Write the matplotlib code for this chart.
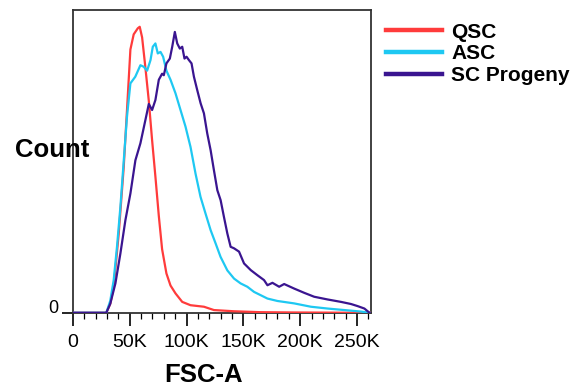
import matplotlib
matplotlib.use("Agg")
import matplotlib.pyplot as plt
import numpy as np

plt.rcParams['font.family'] = ['Liberation Sans', 'DejaVu Sans']

# FSC-A (thousands) and relative count values
qsc_x = [0, 29.4, 32.9, 35.9, 40.3, 44.7, 47.6, 50.6, 53.5, 57.1, 58.8, 60.9, 63.8, 66.8,
         69.7, 72.6, 75.6, 78.5, 82.3, 85.9, 90.3, 96.2, 103.5, 115.3, 124.1, 141.8, 165, 194.7, 253.5, 262]
qsc_y = [0, 0, 3, 8.6, 26, 48, 67, 87, 92, 94, 94.5, 91, 81, 70,
         57, 45, 32, 21, 13, 9, 6.4, 3.6, 2.5, 2, 0.9, 0.5, 0.2, 0.1, 0, 0]

asc_x = [0, 29.4, 32.9, 35.9, 38.8, 41.8, 44.7, 47.6, 50.6, 54.9, 59.4, 62.3, 65.3, 68.3, 70.3,
         72.6, 74.7, 77.1, 79.4, 82.3, 85.9, 90.3, 94.7, 99.1, 103.5, 107.9, 112.3, 116.7, 121.2,
         125.6, 129.9, 135.9, 141.8, 147.6, 153.5, 159.4, 165.3, 171.2, 180, 194.7, 209.4, 224.1,
         238.8, 253.5, 260.9]
asc_y = [0, 0, 4, 10.8, 21.8, 35, 50, 64.8, 75.8, 78, 81.8, 81.3, 80, 83.5, 87.9,
         89, 85.7, 86.2, 84.6, 80, 77, 72.5, 67, 61.5, 54.8, 46, 38.3, 32.8, 27.3,
         22.9, 18.5, 14, 11.3, 9.7, 8.6, 6.9, 5.8, 4.7, 3.9, 3.1, 2, 1.4,
         0.9, 0.4, 0]

prog_x = [0, 29.4, 32.9, 37.4, 41.8, 46.2, 50.6, 55.0, 59.4, 63.8, 66.8, 69.7, 72.6, 75.6, 78.5,
          80.0, 82.3, 85.3, 87.4, 89.7, 91.8, 94.1, 96.2, 98.2, 100.0, 102.1, 104.4, 106.5,
          109.4, 112.4, 115.3, 118.2, 121.2, 124.1, 127.1, 130.0, 132.9, 135.9, 138.8, 141.8,
          146.2, 150.6, 156.5, 162.4, 168.2, 171.2, 175.6, 181.5, 185.9, 194.7, 203.5, 212.3,
          224.1, 235.9, 244.7, 250.6, 256.5, 261]
prog_y = [0, 0, 3, 9.7, 19.6, 30.6, 39.4, 50.4, 56, 63.7, 69, 67, 70.3, 77, 79,
          78.5, 82.4, 84, 87.9, 92.8, 89, 87.3, 87.9, 84, 84.6, 83.5, 82.4, 78,
          73.6, 69.2, 65.9, 59.3, 53.7, 47.1, 40.5, 37.2, 31.7, 26.2, 21.8, 21.3,
          20.2, 16.3, 14.1, 12.4, 10.8, 9.1, 9.9, 8.6, 9.5, 8, 6.6, 5.3,
          4.4, 3.6, 2.9, 2.2, 1.4, 0]

series_names = ["QSC", "ASC", "SC Progeny"]
series_colors = ["#FF3B3B", "#1EC8F2", "#3A1590"]
tick_vals = [0, 50, 100, 150, 200, 250]
tick_labels = ["0", "50K", "100K", "150K", "200K", "250K"]

fig = plt.figure(figsize=(5.74, 3.9), dpi=100)
ax = fig.add_axes([0.127, 0.198, 0.519, 0.776])

data = [(qsc_x, qsc_y), (asc_x, asc_y), (prog_x, prog_y)]
for (xs, ys), name, col in zip(data, series_names, series_colors):
    ax.plot(np.array(xs), np.array(ys), color=col, lw=1.6, label=name, zorder=3)

ax.set_xlim(0, 262.144)
ax.set_ylim(0, 100)
ax.set_xticks(tick_vals)
ax.set_xticklabels(tick_labels, fontsize=14)
ax.set_xticks(np.arange(0, 262, 10), minor=True)
ax.tick_params(axis='x', which='major', length=9, width=1.2, direction='out', pad=6)
ax.tick_params(axis='x', which='minor', length=4, width=0.9, direction='out')
ax.set_yticks([0])
ax.set_yticklabels([""])
ax.tick_params(axis='y', which='major', length=8, width=1.2, direction='out')
for s in ax.spines.values():
    s.set_linewidth(1.3)
    s.set_color('#333333')

fig.text(53 / 574, 1 - 313 / 390, "0", fontsize=13, ha='center', va='baseline')
fig.text(15 / 574, 1 - 150 / 390, "Count", fontsize=18.5, fontweight='bold', ha='left', va='center')
fig.text(204 / 574, 1 - 375 / 390, "FSC-A", fontsize=18.5, fontweight='bold', ha='center', va='center')

leg_handles = [plt.Line2D([], [], color=c, lw=3.2) for c in series_colors]
leg = fig.legend(leg_handles, series_names, loc='upper left',
                 bbox_to_anchor=(371 / 574, 1 - 8 / 390), frameon=False,
                 prop={'weight': 'bold', 'size': 15}, handlelength=2.7,
                 handletextpad=0.45, labelspacing=0.13, borderpad=0.2)

fig.savefig("out.png", dpi=100)
